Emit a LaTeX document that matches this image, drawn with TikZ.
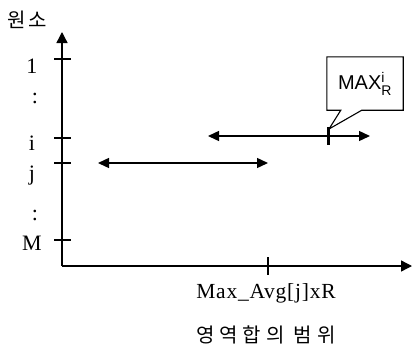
\documentclass[tikz,border=0pt]{standalone}
\usepackage{fontspec}
\usepackage{amsmath}
\setmainfont{Liberation Serif}
\newfontfamily\krfont{Noto Sans CJK KR}
\newfontfamily\arialfont{Liberation Sans}
\usetikzlibrary{arrows.meta,calc}
\begin{document}
\begin{tikzpicture}[x=1pt,y=-1pt,
  axis/.style={line width=1.4pt,-{Triangle[length=11pt,width=11pt]}},
  spanarrow/.style={line width=1.4pt,{Triangle[length=11pt,width=10pt]}-{Triangle[length=11pt,width=10pt]}},
  tickmark/.style={line width=1.2pt},
  ylab/.style={anchor=base,font=\fontsize{22}{22}\selectfont,inner sep=0pt},
  kr/.style={font=\krfont\addfontfeature{LetterSpace=15}\fontsize{20}{20}\selectfont,inner sep=0pt}
]
\useasboundingbox (0,0) rectangle (413,349);

% axes
\coordinate (origin) at (62,266);
\coordinate (ytop) at (62,32);
\coordinate (xend) at (412,266);
\draw[axis] (origin) -- (ytop);
\draw[axis] (origin) -- (xend);

% ticks on the vertical axis
\foreach \yy in {59,138,163,240} \draw[tickmark] (54,\yy) -- (71,\yy);
% tick on the horizontal axis
\draw[tickmark] (268,257) -- (268,275);

% axis labels
\node[kr] (ytitle) at (27,20) {원소};
\node[ylab] (l1) at (32,73) {1};
\node[ylab] (c1) at (35,103) {:};
\node[ylab] (li) at (32,150) {i};
\node[ylab] (lj) at (32,180) {j};
\node[ylab] (c2) at (35,220) {:};
\node[ylab] (lM) at (32,250) {M};
\node[anchor=base,inner sep=0pt,
      font=\addfontfeature{LetterSpace=3.5}\fontsize{21.5}{21.5}\selectfont]
      (xval) at (266,298) {Max\_Avg[j]xR};
\node[kr,font=\krfont\addfontfeature{LetterSpace=24}\fontsize{20}{20}\selectfont]
      (xtitle) at (266,335) {영역합의 범위};

% ranges
\coordinate (ja) at (98,163);
\coordinate (jb) at (268,163);
\coordinate (ia) at (208,136);
\coordinate (ib) at (370,136);
\draw[spanarrow] (ja) -- (jb);
\draw[spanarrow] (ia) -- (ib);

% maximum mark
\coordinate (mtop) at (328,127);
\coordinate (mbot) at (328,145);
\draw[line width=3pt] (mtop) -- (mbot);

% callout
\node[minimum width=76pt,minimum height=53pt,inner sep=0pt,
      font=\arialfont\fontsize{20}{20}\selectfont] (mx) at (365,83.5)
      {MAX$^{\text{i}}_{\text{R}}$};
\coordinate (tip) at (329,129);
\draw[line width=1.1pt,line join=miter]
  (mx.north west) -- (mx.north east) -- (mx.south east)
  -- ($(mx.south west)+(35,0)$) -- (tip) -- ($(mx.south west)+(14,0)$)
  -- (mx.south west) -- cycle;
\end{tikzpicture}
\end{document}
